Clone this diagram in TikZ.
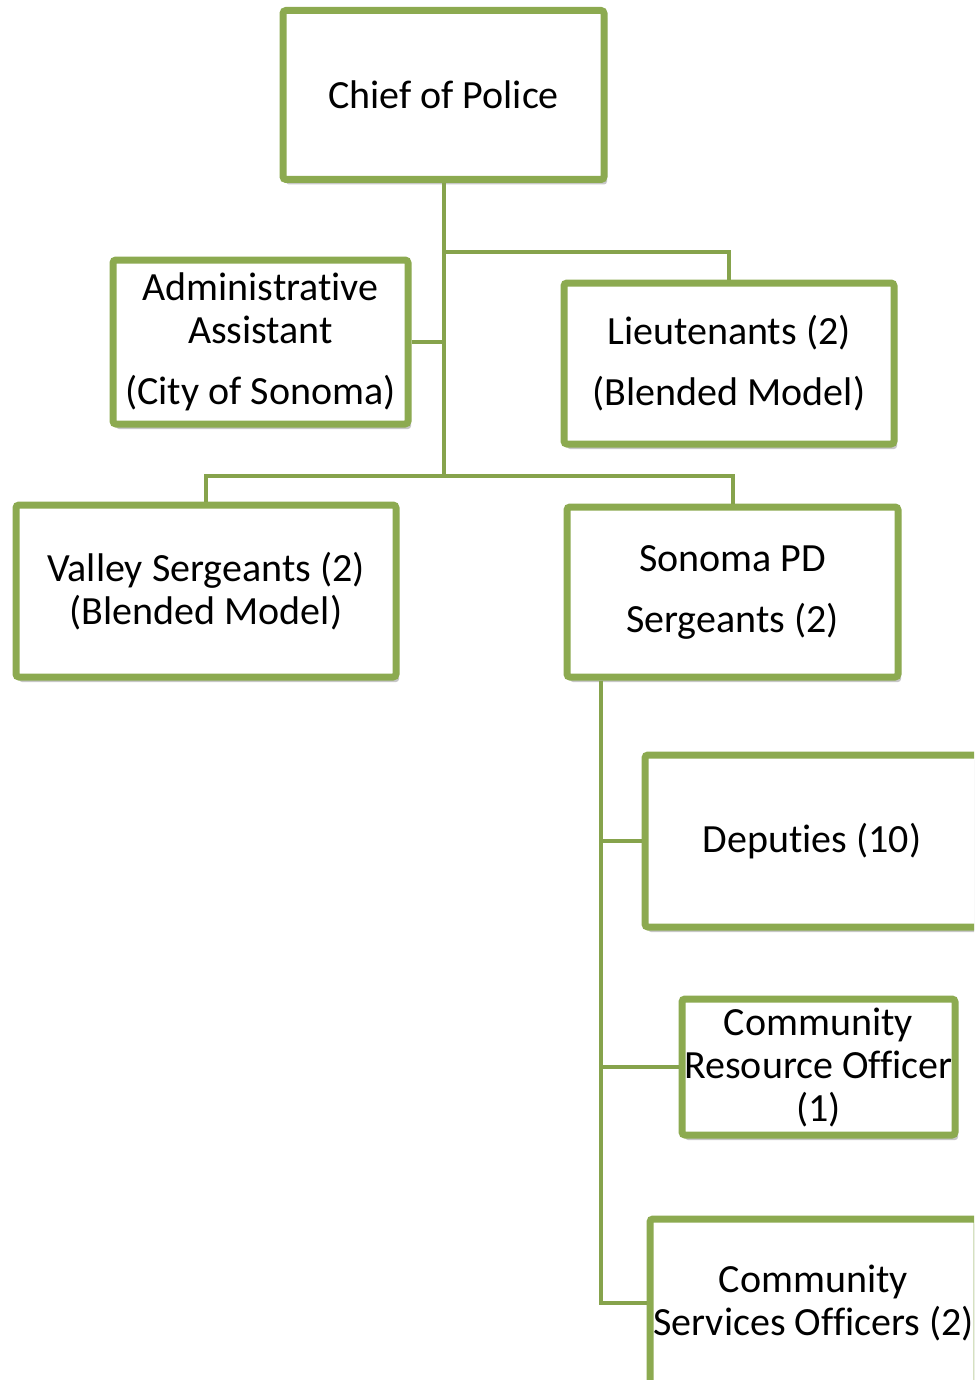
\documentclass[tikz,border=0pt]{standalone}
\usepackage{fontspec}
\setmainfont{Carlito}[Ligatures=NoCommon]
\usetikzlibrary{shadows}
\definecolor{boxgreen}{RGB}{140,170,80}
\definecolor{linkgreen}{RGB}{134,163,76}
\tikzset{
  orgbox/.style={draw=boxgreen, line width=7pt, rounded corners=3pt, fill=white,
    align=center, inner sep=0pt, font=\fontsize{40}{43}\selectfont,
    drop shadow={shadow xshift=3pt, shadow yshift=-5pt, opacity=0.22, fill=black}},
  link/.style={draw=linkgreen, line width=4pt}
}
\begin{document}
\begin{tikzpicture}[x=1pt, y=-1pt]
\useasboundingbox (0,0) rectangle (974,1380);
\clip (0,0) rectangle (974,1380);

% hierarchy boxes
\node[orgbox, minimum width=321pt, minimum height=169pt] (chief)  at (443.5,95) {Chief of Police};
\node[orgbox, minimum width=295pt, minimum height=164pt] (admin)  at (260.5,342) {Administrative\\Assistant\\[18pt](City of Sonoma)};
\node[orgbox, minimum width=330pt, minimum height=161pt] (lieut)  at (729,363.5) {Lieutenants (2)\\[18pt](Blended Model)};
\node[orgbox, minimum width=380pt, minimum height=172pt] (valley) at (206,591) {Valley Sergeants (2)\\(Blended Model)};
\node[orgbox, minimum width=331pt, minimum height=170pt] (sonoma) at (732.5,592) {Sonoma PD\\[18pt]Sergeants (2)};
\node[orgbox, minimum width=334pt, minimum height=172pt] (deput)  at (812,841) {Deputies (10)};
\node[orgbox, minimum width=273pt, minimum height=136pt] (cro)    at (818.5,1067) {Community\\Resource Officer\\(1)};
\node[orgbox, minimum width=327pt, minimum height=167pt] (cso)    at (813.5,1302.5) {Community\\Services Officers (2)};

% junction points of the connector tree
\coordinate (hubL) at (443.5,252);
\coordinate (hubS) at (443.5,476);
\coordinate (subtop) at ([xshift=37.5pt]sonoma.south west);

% connectors
\draw[link] (chief.south) -- (hubS);
\draw[link] (hubL) -| (lieut.north);
\draw[link] (admin.east) -- (admin.east -| hubL);
\draw[link] (valley.north) |- (hubS) -| (sonoma.north);
\draw[link] (subtop) |- (cso.west);
\draw[link] (subtop |- deput.west) -- (deput.west);
\draw[link] (subtop |- cro.west) -- (cro.west);
\end{tikzpicture}
\end{document}
